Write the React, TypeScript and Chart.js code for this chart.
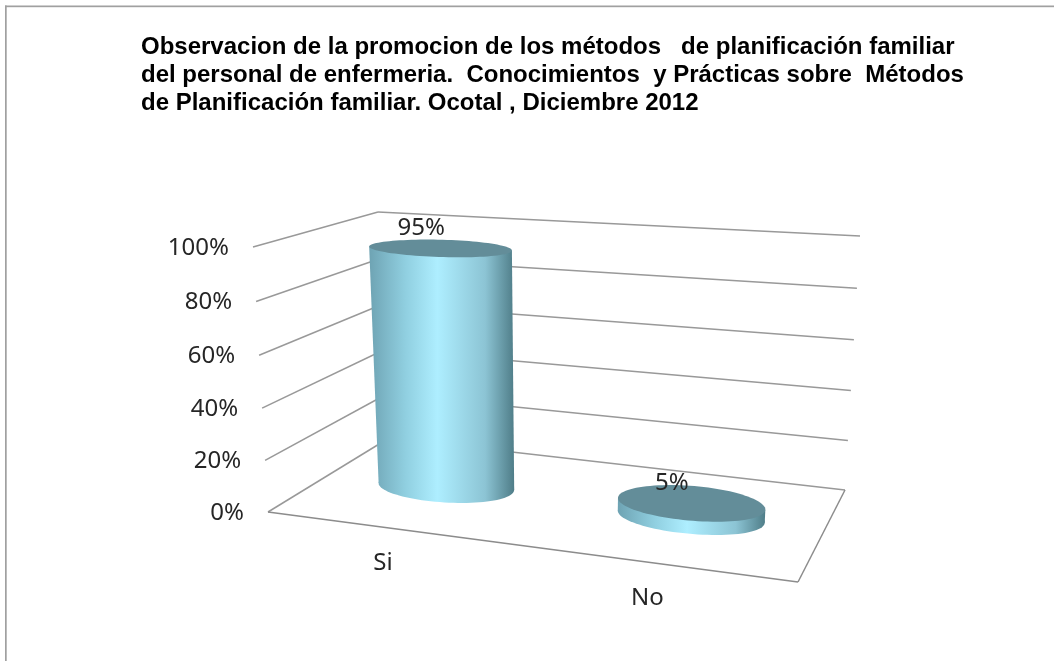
import { useEffect, useRef } from "react";
import { Chart, registerables } from "chart.js";

Chart.register(...registerables);

const categories = ["Si", "No"];
const values = [95, 5];
const valueTicks = [0, 20, 40, 60, 80, 100];
const titleLines = [
  "Observacion de la promocion de los métodos   de planificación familiar",
  "del personal de enfermeria.  Conocimientos  y Prácticas sobre  Métodos",
  "de Planificación familiar. Ocotal , Diciembre 2012",
];

type Pt = [number, number];
// Perspective box of the 3-D scene: [front-left, front-right, back-left, back-right]
const FLOOR: Pt[] = [[268, 512], [798, 582], [389, 438], [845, 490]];
const CEIL: Pt[] = [[253, 247], [815, 287], [378, 212], [860, 236]];
const VALUE_WARP = 0.035;
const ACROSS_WARP = 0.116;
const DEPTH = 0.54;
const RADIUS_U = 0.14;
const RADIUS_W = 0.19;
const LABEL_FONT = '24px "Noto Sans"';
const LABEL_COLOR = "#262626";
const LINE_COLOR = "#999999";

const warp = (t: number, k: number) => t / (1 + k - k * t);
const lerp = (a: number, b: number, t: number) => a + (b - a) * t;

function project(u: number, v: number, w: number): Pt {
  const plane = (c: Pt[], i: number) =>
    lerp(lerp(c[0][i], c[1][i], u), lerp(c[2][i], c[3][i], u), w);
  const fv = warp(v, VALUE_WARP);
  return [lerp(plane(FLOOR, 0), plane(CEIL, 0), fv), lerp(plane(FLOOR, 1), plane(CEIL, 1), fv)];
}

function ring(uc: number, v: number): Pt[] {
  const pts: Pt[] = [];
  for (let a = 0; a < 96; a++) {
    const t = (a / 96) * Math.PI * 2;
    pts.push(project(warp(uc + RADIUS_U * Math.cos(t), ACROSS_WARP), v, DEPTH + RADIUS_W * Math.sin(t)));
  }
  return pts;
}

function trace(ctx: CanvasRenderingContext2D, pts: Pt[]) {
  ctx.beginPath();
  pts.forEach((p, i) => (i ? ctx.lineTo(p[0], p[1]) : ctx.moveTo(p[0], p[1])));
  ctx.closePath();
}

function segment(ctx: CanvasRenderingContext2D, a: Pt, b: Pt) {
  ctx.beginPath();
  ctx.moveTo(a[0], a[1]);
  ctx.lineTo(b[0], b[1]);
  ctx.stroke();
}

const scenePlugin = {
  id: "scene3d",
  beforeDatasetsDraw(chart: any) {
    const ctx: CanvasRenderingContext2D = chart.ctx;
    const y = chart.scales.y;
    ctx.save();
    // chart frame
    ctx.fillStyle = "#a0a0a0";
    ctx.fillRect(5, 5.5, chart.width - 5, 1.7);
    ctx.fillRect(5, 5.5, 1.7, chart.height - 5);
    // walls
    ctx.strokeStyle = LINE_COLOR;
    ctx.lineWidth = 1.5;
    y.ticks.forEach((t: any) => {
      const v = t.value / y.max;
      segment(ctx, project(0, v, 0), project(0, v, 1));
      segment(ctx, project(0, v, 1), project(1, v, 1));
    });
    // floor front edges
    ctx.strokeStyle = "#8c8c8c";
    segment(ctx, project(0, 0, 0), project(1, 0, 0));
    segment(ctx, project(1, 0, 0), project(1, 0, 1));
    ctx.restore();
  },
  afterDatasetsDraw(chart: any) {
    const ctx: CanvasRenderingContext2D = chart.ctx;
    const area = chart.chartArea;
    const y = chart.scales.y;
    const meta = chart.getDatasetMeta(0);
    ctx.save();
    meta.data.forEach((bar: any) => {
      const uc = (bar.x - area.left) / area.width;
      const v = (bar.base - bar.y) / (bar.base - area.top);
      const base = ring(uc, 0);
      const top = ring(uc, v);
      const all = [...base, ...top];
      const left = Math.min(...all.map((p) => p[0]));
      const right = Math.max(...all.map((p) => p[0]));
      const g = ctx.createLinearGradient(left, 0, right, 0);
      g.addColorStop(0, "#6ea3b3");
      g.addColorStop(0.25, "#90cfe0");
      g.addColorStop(0.47, "#aeeeff");
      g.addColorStop(0.8, "#8cc4d4");
      g.addColorStop(1, "#4f7d88");
      ctx.fillStyle = g;
      trace(ctx, base);
      ctx.fill();
      const side = (pts: Pt[], sign: number) =>
        pts.reduce((m, p) => (sign * p[0] > sign * m[0] ? p : m), pts[0]);
      trace(ctx, [side(base, -1), side(top, -1), side(top, 1), side(base, 1)]);
      ctx.fill();
      ctx.fillStyle = "#638d99";
      trace(ctx, top);
      ctx.fill();
    });
    // text
    ctx.font = LABEL_FONT;
    ctx.fillStyle = LABEL_COLOR;
    ctx.textBaseline = "middle";
    ctx.textAlign = "right";
    y.ticks.forEach((t: any) => {
      const p = project(0, t.value / y.max, 0);
      ctx.fillText(`${t.value}%`, p[0] - 24, p[1] + 1);
    });
    ctx.textAlign = "center";
    meta.data.forEach((bar: any, i: number) => {
      const uc = (bar.x - area.left) / area.width;
      const v = (bar.base - bar.y) / (bar.base - area.top);
      const c = project(warp(uc, ACROSS_WARP), v, DEPTH);
      ctx.fillText(`${values[i]}%`, c[0] - 19, c[1] - 20);
      const f = project(warp(uc, ACROSS_WARP), 0, 0);
      ctx.fillText(categories[i], f[0] - 7, f[1] + 35);
    });
    ctx.restore();
  },
};

export default function App() {
  const ref = useRef<HTMLCanvasElement>(null);
  useEffect(() => {
    const chart = new Chart(ref.current!, {
      type: "bar",
      data: {
        labels: categories,
        datasets: [{ label: "Observacion", data: values, backgroundColor: "rgba(0,0,0,0)", borderWidth: 0 }],
      },
      options: {
        animation: false,
        responsive: false,
        layout: { padding: { left: 141, top: 34, right: 60, bottom: 20 } },
        scales: {
          x: { display: false },
          y: { display: false, min: 0, max: 100, afterBuildTicks: (s: any) => { s.ticks = valueTicks.map((value) => ({ value })); } },
        },
        plugins: {
          legend: { display: false },
          tooltip: { enabled: false },
          title: {
            display: true,
            text: titleLines,
            align: "start",
            fullSize: false,
            color: "#000000",
            font: { family: '"Liberation Sans"', size: 24, weight: "bold", lineHeight: 1.15 },
            padding: 0,
          },
        },
      } as any,
      plugins: [scenePlugin],
    });
    return () => chart.destroy();
  }, []);
  return (
    <canvas
      ref={ref}
      width={1054}
      height={661}
      style={{ position: "fixed", left: 0, top: 0, width: 1054, height: 661, background: "#fff" }}
    />
  );
}
